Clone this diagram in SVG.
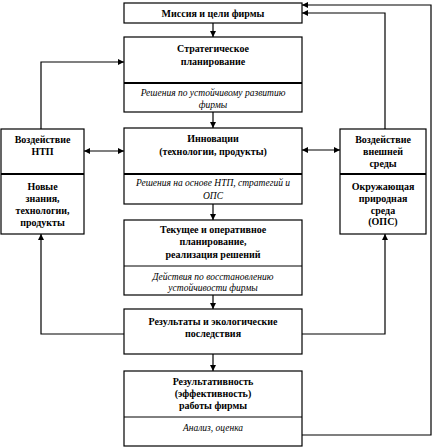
<svg xmlns="http://www.w3.org/2000/svg" width="438" height="447" viewBox="0 0 438 447">
<style>
.box{fill:#fff;stroke:#000;stroke-width:1.2}
.div{stroke:#000;stroke-width:1}
.thick{stroke:#000;stroke-width:2.2}
.b{font-family:"Liberation Serif","Times New Roman",serif;font-weight:bold;font-size:10px;text-anchor:middle;fill:#000}
.i{font-family:"Liberation Serif","Times New Roman",serif;font-style:italic;font-size:9.5px;text-anchor:middle;fill:#000}
.ln{fill:none;stroke:#000;stroke-width:1.2}
</style>
<defs>
<marker id="ah" viewBox="0 0 6 6" refX="6" refY="3" markerWidth="6" markerHeight="6" orient="auto-start-reverse" markerUnits="userSpaceOnUse"><path d="M0,0 L6,3 L0,6 z" fill="#000"/></marker>
</defs>
<rect width="438" height="447" fill="#fff"/>
<g id="connectors">
<line class="ln" x1="213" y1="23" x2="213" y2="37" marker-end="url(#ah)"/>
<line class="ln" x1="213" y1="112" x2="213" y2="128" marker-end="url(#ah)"/>
<line class="ln" x1="213" y1="204" x2="213" y2="220" marker-end="url(#ah)"/>
<line class="ln" x1="213" y1="295" x2="213" y2="309" marker-end="url(#ah)"/>
<line class="ln" x1="213" y1="354" x2="213" y2="371" marker-end="url(#ah)"/>
<line class="ln" x1="84" y1="151" x2="124" y2="151" marker-start="url(#ah)" marker-end="url(#ah)"/>
<line class="ln" x1="302" y1="150" x2="340" y2="150" marker-start="url(#ah)" marker-end="url(#ah)"/>
<polyline class="ln" points="41,129 41,62 124,62" marker-end="url(#ah)"/>
<polyline class="ln" points="124,334 41,334 41,234" marker-end="url(#ah)"/>
<polyline class="ln" points="302,334 385,334 385,234" marker-end="url(#ah)"/>
<polyline class="ln" points="385,129 385,13 302,13" marker-end="url(#ah)"/>
<polyline class="ln" points="302,435 431,435 431,5 302,5" marker-end="url(#ah)"/>
</g>
<g id="mission">
<rect class="box" x="124" y="3" width="178" height="20"/>
<text class="b" x="213" y="16.5">Миссия и цели фирмы</text>
</g>
<g id="strategic">
<rect class="box" x="124" y="37" width="178" height="75"/>
<line class="thick" x1="124" y1="83" x2="302" y2="83"/>
<text class="b" x="213" y="52">Стратегическое</text>
<text class="b" x="213" y="65">планирование</text>
<text class="i" x="213" y="96">Решения по устойчивому развитию</text>
<text class="i" x="213" y="108">фирмы</text>
</g>
<g id="innovation">
<rect class="box" x="124" y="128" width="178" height="76"/>
<line class="thick" x1="124" y1="174" x2="302" y2="174"/>
<text class="b" x="213" y="142">Инновации</text>
<text class="b" x="213" y="155">(технологии, продукты)</text>
<text class="i" x="213" y="186">Решения на основе НТП, стратегий и</text>
<text class="i" x="213" y="199">ОПС</text>
</g>
<g id="current">
<rect class="box" x="124" y="220" width="178" height="75"/>
<line class="div" x1="124" y1="266" x2="302" y2="266"/>
<text class="b" x="213" y="233">Текущее и оперативное</text>
<text class="b" x="213" y="245">планирование,</text>
<text class="b" x="213" y="258">реализация решений</text>
<text class="i" x="213" y="280">Действия по восстановлению</text>
<text class="i" x="213" y="291">устойчивости фирмы</text>
</g>
<g id="results">
<rect class="box" x="124" y="309" width="178" height="45"/>
<text class="b" x="213" y="325">Результаты и экологические</text>
<text class="b" x="213" y="337">последствия</text>
</g>
<g id="effectiveness">
<rect class="box" x="124" y="371" width="178" height="75"/>
<line class="div" x1="124" y1="417" x2="302" y2="417"/>
<text class="b" x="213" y="385">Результативность</text>
<text class="b" x="213" y="397">(эффективность)</text>
<text class="b" x="213" y="409">работы фирмы</text>
<text class="i" x="213" y="431">Анализ, оценка</text>
</g>
<g id="ntp">
<rect class="box" x="1" y="129" width="83" height="105"/>
<line class="thick" x1="1" y1="174" x2="84" y2="174"/>
<text class="b" x="42.5" y="143">Воздействие</text>
<text class="b" x="42.5" y="155">НТП</text>
<text class="b" x="42.5" y="190">Новые</text>
<text class="b" x="42.5" y="202">знания,</text>
<text class="b" x="42.5" y="214">технологии,</text>
<text class="b" x="42.5" y="226">продукты</text>
</g>
<g id="environment">
<rect class="box" x="340" y="129" width="86" height="105"/>
<line class="thick" x1="340" y1="174" x2="426" y2="174"/>
<text class="b" x="383" y="143">Воздействие</text>
<text class="b" x="383" y="155">внешней</text>
<text class="b" x="383" y="167">среды</text>
<text class="b" x="383" y="190">Окружающая</text>
<text class="b" x="383" y="202">природная</text>
<text class="b" x="383" y="214">среда</text>
<text class="b" x="383" y="225">(ОПС)</text>
</g>
</svg>
